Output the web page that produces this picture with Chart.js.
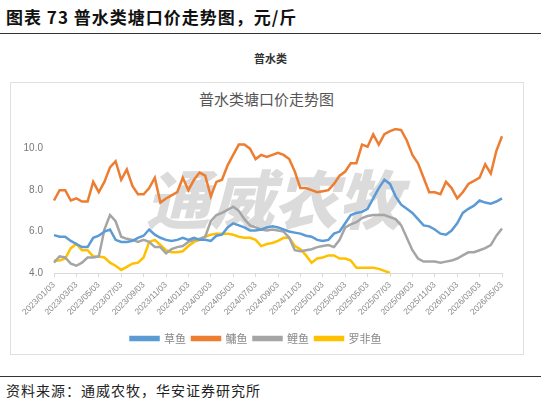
<!DOCTYPE html>
<html><head><meta charset="utf-8">
<script src="https://cdn.jsdelivr.net/npm/chart.js@4"></script>
<style>
body{margin:0;width:541px;height:407px;background:#fff;position:relative;overflow:hidden;font-family:"Noto Sans CJK SC",sans-serif}
.abs{position:absolute}
#t{left:6px;top:4px;font-size:17px;font-weight:bold;color:#111;letter-spacing:1px}
#l1{left:0;top:33px;width:541px;height:1px;background:#333}
#st{left:0;width:541px;top:50px;text-align:center;font-size:11px;font-weight:bold;color:#333}
#box{left:10px;top:82px;width:512px;height:271px;border:1px solid #e0e0e0;background:#fff}
#ct{left:10px;width:513px;top:88px;text-align:center;font-size:15px;color:#555}
#wm{left:146px;top:150px;font-size:64px;font-weight:900;font-style:italic;color:rgba(175,175,175,0.45);letter-spacing:0px}
#cv{left:10px;top:82px}
#l2{left:0;top:376px;width:541px;height:1px;background:#333}
#src{left:6px;top:380px;font-size:14px;color:#222;letter-spacing:1px}
</style></head><body>
<div id="t" class="abs">图表 73 普水类塘口价走势图，元/斤</div>
<div id="l1" class="abs"></div>
<div id="st" class="abs">普水类</div>
<div id="box" class="abs"></div>
<div id="ct" class="abs">普水类塘口价走势图</div>
<div id="wm" class="abs">通威农牧</div>
<div class="abs" id="cv" style="width:513px;height:272px"><canvas id="c"></canvas></div>
<div id="l2" class="abs"></div>
<div id="src" class="abs">资料来源：通威农牧，华安证券研究所</div>
<script>
const tickLabels=["2023/01/03","2023/03/03","2023/05/03","2023/07/03","2023/09/03","2023/11/03","2024/01/03","2024/03/03","2024/05/03","2024/07/03","2024/09/03","2024/11/03","2025/01/03","2025/03/03","2025/05/03","2025/07/03","2025/09/03","2025/11/03","2026/01/03","2026/03/03","2026/05/03"];
const seriesNames=["草鱼","鳙鱼","鲤鱼","罗非鱼"];
const grass=[5.83,5.75,5.75,5.55,5.4,5.25,5.25,5.7,5.8,6.0,6.1,5.6,5.5,5.5,5.55,5.7,5.8,6.1,5.85,5.7,5.6,5.55,5.6,5.7,5.6,5.7,5.6,5.6,5.55,5.8,5.85,6.2,6.4,6.3,6.2,6.05,6.05,6.1,6.2,6.25,6.2,6.1,6.0,5.95,5.9,5.8,5.75,5.6,5.55,5.6,5.9,6.0,6.4,6.8,6.9,6.95,7.1,7.6,8.1,8.5,8.3,7.7,7.3,7.1,6.9,6.6,6.3,6.25,6.1,5.9,5.85,6.05,6.4,6.9,7.1,7.25,7.5,7.4,7.35,7.45,7.6];
const bighead=[7.5,8.0,8.0,7.5,7.6,7.45,7.45,8.4,7.9,8.4,9.1,9.4,8.5,9.0,8.2,7.8,7.8,8.1,8.6,7.4,7.6,7.75,7.9,8.6,8.0,8.5,8.85,8.7,7.7,8.4,8.5,9.2,9.7,10.2,10.2,10.0,9.5,9.7,9.6,9.7,9.8,9.7,9.5,8.9,8.1,8.1,8.0,7.9,7.95,8.0,8.3,8.7,8.9,9.3,9.3,10.2,10.1,10.7,10.2,10.7,10.85,10.95,10.9,10.4,9.7,9.3,8.6,7.9,7.9,7.8,8.4,8.1,7.6,7.9,8.3,8.45,8.6,9.25,8.8,9.9,10.6];
const carp=[4.5,4.8,4.75,4.45,4.35,4.5,4.75,4.75,4.8,6.1,6.8,6.5,5.75,5.65,5.6,5.5,5.6,5.5,5.25,5.25,4.95,5.15,5.25,5.3,5.5,5.6,5.65,5.75,6.5,6.8,6.9,7.05,7.2,7.0,6.6,6.3,6.2,6.1,6.05,6.1,6.05,6.0,5.7,5.1,5.05,5.1,5.15,5.25,5.3,5.35,5.25,5.6,6.2,6.35,6.45,6.65,6.75,6.8,6.8,6.8,6.7,6.6,6.3,5.7,5.1,4.7,4.55,4.55,4.55,4.5,4.55,4.6,4.7,4.85,5.0,5.0,5.1,5.2,5.35,5.8,6.15];
const tilapia=[4.6,4.6,4.7,5.2,5.4,5.1,5.1,4.8,4.8,4.75,4.5,4.35,4.15,4.3,4.45,4.5,4.75,5.5,5.6,5.35,5.1,5.0,5.0,5.05,5.3,5.5,5.6,5.75,5.85,5.9,5.9,5.9,5.85,5.75,5.7,5.7,5.6,5.3,5.4,5.45,5.55,5.7,5.7,5.3,5.15,4.85,4.5,4.7,4.75,4.85,4.85,4.7,4.7,4.6,4.25,4.25,4.25,4.25,4.2,4.1,4.0];
const yTicks=[4,6,8,10];
const categories=[];
for(let i=0;i<grass.length;i++)categories.push(i%4===0?tickLabels[i/4]:"");
const colors=["#5B9BD5","#ED7D31","#A5A5A5","#FFC000"];
const data=[grass,bighead,carp,tilapia];
new Chart(document.getElementById('c'),{
type:'line',
data:{labels:categories,datasets:seriesNames.map((n,k)=>({label:n,data:data[k],borderColor:colors[k],backgroundColor:colors[k],borderWidth:2.5,pointRadius:0,tension:0}))},
options:{responsive:true,maintainAspectRatio:false,animation:false,
layout:{padding:{left:0,right:21,top:46,bottom:0}},
plugins:{legend:{position:'bottom',labels:{boxWidth:28,boxHeight:3,font:{size:11,family:'Noto Sans CJK SC'},color:'#888',padding:6}},tooltip:{enabled:false}},
scales:{
x:{offset:false,afterFit:s=>{s.height=54},
grid:{drawOnChartArea:false,drawTicks:true,tickLength:4,color:c=>c.index%4===0?'#d9d9d9':'transparent'},
border:{color:'#d9d9d9'},
ticks:{autoSkip:false,minRotation:45,maxRotation:45,font:{size:8.5},color:'#888',callback:function(v,i){return categories[i];}}},
y:{min:4,max:11,afterFit:s=>{s.width=44},afterBuildTicks:s=>{s.ticks=yTicks.map(v=>({value:v}))},
grid:{display:false},border:{display:false},
ticks:{font:{size:10},color:'#777',callback:v=>v.toFixed(1)}}
}}});
</script></body></html>
